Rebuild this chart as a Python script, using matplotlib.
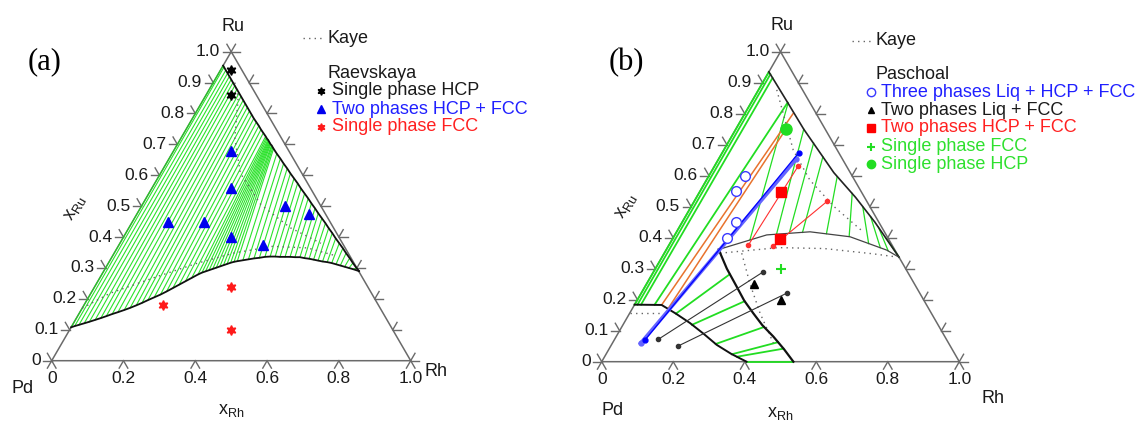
"""Pd-Rh-Ru isothermal sections: (a) vs Raevskaya, (b) vs Paschoal."""

import numpy as np
import matplotlib.pyplot as plt

plt.rcParams["font.family"] = ["Liberation Sans", "DejaVu Sans"]

SQ3 = np.sqrt(3) / 2

RU_TICKS = [0.0, 0.1, 0.2, 0.3, 0.4, 0.5, 0.6, 0.7, 0.8, 0.9, 1.0]
RU_TICK_LABELS = ["0", "0.1", "0.2", "0.3", "0.4", "0.5", "0.6", "0.7", "0.8", "0.9", "1.0"]
RH_TICKS = [0.0, 0.2, 0.4, 0.6, 0.8, 1.0]
RH_TICK_LABELS = ["0", "0.2", "0.4", "0.6", "0.8", "1.0"]

# ---- panel (a): calculated FCC + HCP tie lines (FCC end, HCP end)
A_TIE_FCC_RH = [0.000, 0.008, 0.018, 0.030, 0.042, 0.055, 0.068, 0.080, 0.093, 0.106,
                0.120, 0.133, 0.146, 0.158, 0.170, 0.183, 0.196, 0.208, 0.220, 0.232,
                0.244, 0.256, 0.268, 0.276, 0.284, 0.292, 0.300, 0.308, 0.316, 0.324,
                0.332, 0.340, 0.348, 0.356, 0.370, 0.384, 0.398, 0.412, 0.426, 0.440,
                0.454, 0.468, 0.482, 0.496, 0.510, 0.524, 0.538, 0.552, 0.566, 0.580,
                0.594, 0.608, 0.622, 0.636, 0.650, 0.664, 0.678, 0.692]
A_TIE_FCC_RU = [0.108, 0.112, 0.116, 0.121, 0.126, 0.132, 0.138, 0.144, 0.151, 0.157,
                0.164, 0.171, 0.179, 0.187, 0.196, 0.205, 0.214, 0.224, 0.235, 0.246,
                0.257, 0.268, 0.279, 0.285, 0.289, 0.293, 0.297, 0.301, 0.305, 0.309,
                0.313, 0.317, 0.320, 0.322, 0.325, 0.328, 0.331, 0.333, 0.336, 0.337,
                0.337, 0.336, 0.336, 0.336, 0.335, 0.335, 0.332, 0.330, 0.327, 0.324,
                0.321, 0.319, 0.316, 0.312, 0.308, 0.304, 0.300, 0.296]
A_TIE_HCP_RH = [0.000, 0.005, 0.015, 0.025, 0.035, 0.045, 0.055, 0.065, 0.077, 0.089,
                0.100, 0.112, 0.123, 0.135, 0.147, 0.159, 0.171, 0.184, 0.197, 0.209,
                0.221, 0.233, 0.237, 0.241, 0.245, 0.248, 0.251, 0.254, 0.257, 0.260,
                0.264, 0.267, 0.271, 0.275, 0.292, 0.310, 0.327, 0.345, 0.362, 0.380,
                0.398, 0.416, 0.434, 0.452, 0.469, 0.487, 0.504, 0.522, 0.540, 0.557,
                0.575, 0.593, 0.611, 0.629, 0.646, 0.664, 0.681, 0.699]
A_TIE_HCP_RU = [0.955, 0.950, 0.940, 0.930, 0.920, 0.910, 0.900, 0.890, 0.878, 0.866,
                0.855, 0.843, 0.832, 0.820, 0.808, 0.796, 0.784, 0.772, 0.760, 0.748,
                0.737, 0.726, 0.722, 0.718, 0.715, 0.712, 0.709, 0.706, 0.703, 0.700,
                0.697, 0.694, 0.690, 0.686, 0.670, 0.654, 0.638, 0.622, 0.606, 0.590,
                0.574, 0.557, 0.541, 0.525, 0.509, 0.493, 0.477, 0.461, 0.445, 0.429,
                0.413, 0.396, 0.380, 0.364, 0.348, 0.332, 0.316, 0.300]
A_BOUND_END = (0.711, 0.290)

# Kaye (dotted)
A_KAYE_FCC_RH = [0.000, 0.053, 0.157, 0.247, 0.332, 0.430, 0.530, 0.620]
A_KAYE_FCC_RU = [0.170, 0.218, 0.272, 0.315, 0.348, 0.370, 0.365, 0.340]
A_KAYE_HCP_RH = [0.060, 0.093, 0.150, 0.222, 0.330, 0.450, 0.560]
A_KAYE_HCP_RU = [0.900, 0.853, 0.720, 0.607, 0.505, 0.430, 0.380]

# Raevskaya samples
A_HCP_RH = [0.03, 0.07]
A_HCP_RU = [0.94, 0.86]
A_TWO_RH = [0.16, 0.22, 0.10, 0.20, 0.30, 0.40, 0.40, 0.48]
A_TWO_RU = [0.68, 0.56, 0.45, 0.45, 0.40, 0.375, 0.50, 0.475]
A_FCC_RH = [0.22, 0.38, 0.45]
A_FCC_RU = [0.18, 0.24, 0.10]

# ---- panel (b): calculated boundaries
B_HCP_RH = [0.0, 0.104, 0.19, 0.344, 0.445, 0.539, 0.663]
B_HCP_RU = [0.935, 0.834, 0.75, 0.61, 0.53, 0.45, 0.337]
B_FCC_RH = [0.146, 0.257, 0.373, 0.493, 0.617, 0.663]
B_FCC_RU = [0.362, 0.409, 0.419, 0.403, 0.360, 0.337]
B_LIQ_RH = [0.0, 0.076, 0.13, 0.184, 0.24, 0.295, 0.35, 0.405]
B_LIQ_RU = [0.184, 0.183, 0.155, 0.125, 0.09, 0.054, 0.025, 0.0]
B_SOL_RH = [0.146, 0.20, 0.2565, 0.30, 0.346, 0.39, 0.4395, 0.49, 0.536]
B_SOL_RU = [0.362, 0.30, 0.242, 0.197, 0.156, 0.118, 0.081, 0.04, 0.0]

# tie lines: Liq + HCP, FCC + HCP, Liq + FCC
B_TLH_RH0 = [0.0, 0.008, 0.018, 0.056]
B_TLH_RU0 = [0.184, 0.184, 0.184, 0.184]
B_TLH_RH1 = [0.0, 0.008, 0.020, 0.102]
B_TLH_RU1 = [0.935, 0.927, 0.915, 0.836]
B_TFH_RH0 = [0.218, 0.283, 0.317, 0.353, 0.422, 0.490, 0.556, 0.595, 0.622, 0.663]
B_TFH_RU0 = [0.393, 0.412, 0.415, 0.417, 0.413, 0.404, 0.381, 0.368, 0.358, 0.337]
B_TFH_RH1 = [0.104, 0.190, 0.240, 0.288, 0.360, 0.429, 0.480, 0.518, 0.556, 0.594]
B_TFH_RU1 = [0.834, 0.750, 0.705, 0.661, 0.597, 0.543, 0.500, 0.468, 0.435, 0.400]
B_TLF_RH0 = [0.130, 0.193, 0.290, 0.352, 0.370, 0.405]
B_TLF_RU0 = [0.155, 0.119, 0.057, 0.024, 0.016, 0.0]
B_TLF_RH1 = [0.217, 0.302, 0.398, 0.462, 0.487, 0.536]
B_TLF_RU1 = [0.282, 0.195, 0.112, 0.063, 0.042, 0.0]

# three-phase triangle edges (orange)
B_TRI_RH0 = [0.076, 0.100]
B_TRI_RU0 = [0.183, 0.171]
B_TRI_RH1 = [0.135, 0.140]
B_TRI_RU1 = [0.800, 0.750]

# Kaye (dotted)
B_KAYE_L_RH = [0.0, 0.090]
B_KAYE_L_RU = [0.156, 0.156]
B_KAYE_FCC_RH = [0.156, 0.310, 0.440, 0.585, 0.655]
B_KAYE_FCC_RU = [0.350, 0.368, 0.365, 0.348, 0.338]
B_KAYE_SOL_RH = [0.2165, 0.290, 0.365, 0.450]
B_KAYE_SOL_RU = [0.350, 0.250, 0.156, 0.060]
B_KAYE_HCP_RH = [0.051, 0.194, 0.289, 0.400, 0.520]
B_KAYE_HCP_RU = [0.877, 0.683, 0.586, 0.500, 0.420]

# Paschoal measured tie lines (end points drawn as dots)
B_EXP_LF_RH0 = [0.122, 0.189]
B_EXP_LF_RU0 = [0.072, 0.051]
B_EXP_LF_RH1 = [0.307, 0.407]
B_EXP_LF_RU1 = [0.290, 0.221]
B_EXP_HF_RH0 = [0.222, 0.293]
B_EXP_HF_RU0 = [0.376, 0.373]
B_EXP_HF_RH1 = [0.234, 0.372]
B_EXP_HF_RU1 = [0.632, 0.518]
B_EXP_3P_RH0 = [0.079, 0.086]
B_EXP_3P_RU0 = [0.059, 0.070]
B_EXP_3P_RH1 = [0.217, 0.214]
B_EXP_3P_RU1 = [0.653, 0.674]

# Paschoal samples
B_THREE_RH = [0.15, 0.15, 0.10, 0.10]
B_THREE_RU = [0.40, 0.45, 0.55, 0.60]
B_LF_RH = [0.30, 0.40]
B_LF_RU = [0.25, 0.20]
B_HF_RH = [0.227, 0.30]
B_HF_RU = [0.547, 0.397]
B_SFCC_RH = [0.35]
B_SFCC_RU = [0.30]
B_SHCP_RH = [0.14]
B_SHCP_RU = [0.75]

GREEN = "#22dd22"
KAYE = dict(color="#666666", lw=1.0, ls=(0, (1, 3)))
INK = "#1a1a1a"


def tern(rh, ru):
    rh = np.asarray(rh, dtype=float)
    ru = np.asarray(ru, dtype=float)
    return rh + 0.5 * ru, SQ3 * ru


def line(ax, rh, ru, **kw):
    x, y = tern(rh, ru)
    ax.plot(x, y, **kw)


def segments(ax, rh0, ru0, rh1, ru1, **kw):
    x0, y0 = tern(rh0, ru0)
    x1, y1 = tern(rh1, ru1)
    ax.plot(np.vstack([x0, x1]), np.vstack([y0, y1]), **kw)


def frame(ax, corner_pos):
    ax.plot([0, 1, 0.5, 0], [0, 0, SQ3, 0], color="#6a6a6a", lw=1.1, zorder=1)
    arm = 0.024
    a = np.deg2rad
    for v, lab in zip(RU_TICKS, RU_TICK_LABELS):
        xl, yl = 0.5 * v, SQ3 * v
        for ang in (120, 180):
            ax.plot([xl, xl + arm * np.cos(a(ang))], [yl, yl + arm * np.sin(a(ang))],
                    color="#6a6a6a", lw=1.0)
        xr = 1 - 0.5 * v
        for ang in (0, 60):
            ax.plot([xr, xr + arm * np.cos(a(ang))], [yl, yl + arm * np.sin(a(ang))],
                    color="#6a6a6a", lw=1.0)
        ax.text(xl - 0.031, yl, lab, ha="right", va="center", fontsize=12.5, color=INK)
    for v, lab in zip(RH_TICKS, RH_TICK_LABELS):
        for ang in (240, 300):
            ax.plot([v, v + arm * np.cos(a(ang))], [0, arm * np.sin(a(ang))],
                    color="#6a6a6a", lw=1.0)
        ax.text(v, -0.05, lab, ha="center", va="center", fontsize=12.5, color=INK)
    for txt, (x, y) in corner_pos.items():
        ax.text(x, y, txt, ha="center", va="center", fontsize=13, color=INK)


def render():
    fig = plt.figure(figsize=(11.45, 4.21), dpi=100)
    ax_a = fig.add_axes([0, 0, 0.5, 1])
    ax_b = fig.add_axes([0.5, 0, 0.5, 1])
    for ax in (ax_a, ax_b):
        ax.set_axis_off()
    ax_a.set_xlim(-0.144, 1.4507)
    ax_a.set_ylim(-0.169, 1.0109)
    ax_b.set_xlim(-0.0817, 1.5193)
    ax_b.set_ylim(-0.1657, 1.0105)

    # ---------------- (a)
    ax = ax_a
    frame(ax, {"Ru": (0.504, 0.938), "Pd": (-0.08, -0.077), "Rh": (1.071, -0.029),
               "x$_\\mathregular{Rh}$": (0.501, -0.14)})
    ax.text(0.065, 0.428, "x$_\\mathregular{Ru}$", rotation=60, ha="center", va="center",
            fontsize=13, color=INK)
    ax.text(-0.019, 0.837, "(a)", family=["Liberation Serif"], fontsize=22,
            ha="center", va="center")
    segments(ax, A_TIE_FCC_RH, A_TIE_FCC_RU, A_TIE_HCP_RH, A_TIE_HCP_RU,
             color="#14e014", lw=0.8, alpha=0.9, zorder=2)
    line(ax, A_TIE_FCC_RH + [A_BOUND_END[0]], A_TIE_FCC_RU + [A_BOUND_END[1]],
         color="#111111", lw=1.3, zorder=4)
    line(ax, A_TIE_HCP_RH + [A_BOUND_END[0]], A_TIE_HCP_RU + [A_BOUND_END[1]],
         color="#111111", lw=1.3, zorder=4)
    line(ax, A_KAYE_FCC_RH, A_KAYE_FCC_RU, zorder=3, **KAYE)
    line(ax, A_KAYE_HCP_RH, A_KAYE_HCP_RU, zorder=3, **KAYE)

    x, y = tern(A_HCP_RH, A_HCP_RU)
    ax.plot(x, y, ls="none", marker=(6, 1, 0), ms=7, color="black", zorder=6)
    x, y = tern(A_TWO_RH, A_TWO_RU)
    ax.plot(x, y, ls="none", marker="^", ms=6.5, color="#0000ee", zorder=6)
    x, y = tern(A_FCC_RH, A_FCC_RU)
    ax.plot(x, y, ls="none", marker=(6, 1, 0), ms=7, color="#ff1a1a", zorder=6)

    # legend (a)
    ax.plot([0.70, 0.753], [0.904, 0.904], **KAYE)
    ax.text(0.767, 0.904, "Kaye", fontsize=13, va="center", color=INK)
    ax.text(0.767, 0.806, "Raevskaya", fontsize=13, va="center", color=INK)
    rows = [((6, 1, 0), "black", "Single phase HCP", INK, 0.756),
            ("^", "#0000ee", "Two phases HCP + FCC", "#2020ff", 0.705),
            ((6, 1, 0), "#ff1a1a", "Single phase FCC", "#ff2020", 0.655)]
    for mk, mc, txt, tc, yy in rows:
        ax.plot([0.750], [yy], ls="none", marker=mk, ms=5.5, color=mc)
        ax.text(0.781, yy, txt, fontsize=13, va="center", color=tc)

    # ---------------- (b)
    ax = ax_b
    frame(ax, {"Ru": (0.5034, 0.938), "Pd": (0.029, -0.135), "Rh": (1.095, -0.102),
               "x$_\\mathregular{Rh}$": (0.4986, -0.146)})
    ax.text(0.07, 0.433, "x$_\\mathregular{Ru}$", rotation=60, ha="center", va="center",
            fontsize=13, color=INK)
    ax.text(0.068, 0.836, "(b)", family=["Liberation Serif"], fontsize=22,
            ha="center", va="center")

    segments(ax, B_TLH_RH0, B_TLH_RU0, B_TLH_RH1, B_TLH_RU1, color=GREEN, lw=1.3, zorder=2)
    segments(ax, B_TFH_RH0, B_TFH_RU0, B_TFH_RH1, B_TFH_RU1, color=GREEN, lw=0.9, zorder=2)
    segments(ax, B_TLF_RH0, B_TLF_RU0, B_TLF_RH1, B_TLF_RU1, color=GREEN, lw=1.3, zorder=2)
    segments(ax, B_TRI_RH0, B_TRI_RU0, B_TRI_RH1, B_TRI_RU1, color="#e8732e", lw=1.1, zorder=3)

    line(ax, B_HCP_RH, B_HCP_RU, color="#222222", lw=1.2, zorder=4)
    line(ax, B_FCC_RH, B_FCC_RU, color="#444444", lw=0.9, zorder=4)
    line(ax, B_LIQ_RH, B_LIQ_RU, color="#111111", lw=1.4, zorder=4)
    line(ax, B_SOL_RH, B_SOL_RU, color="#111111", lw=1.6, zorder=4)

    for rh, ru in ((B_KAYE_L_RH, B_KAYE_L_RU), (B_KAYE_FCC_RH, B_KAYE_FCC_RU),
                   (B_KAYE_SOL_RH, B_KAYE_SOL_RU), (B_KAYE_HCP_RH, B_KAYE_HCP_RU)):
        line(ax, rh, ru, zorder=3, **KAYE)

    segments(ax, B_EXP_LF_RH0, B_EXP_LF_RU0, B_EXP_LF_RH1, B_EXP_LF_RU1,
             color="#333333", lw=0.8, marker="o", ms=3, zorder=5)
    segments(ax, B_EXP_HF_RH0, B_EXP_HF_RU0, B_EXP_HF_RH1, B_EXP_HF_RU1,
             color="#ff3030", lw=0.8, marker="o", ms=3, zorder=5)
    segments(ax, B_EXP_3P_RH0[:1], B_EXP_3P_RU0[:1], B_EXP_3P_RH1[:1], B_EXP_3P_RU1[:1],
             color="#6464ff", lw=2.6, marker="o", ms=3.5, zorder=5)
    segments(ax, B_EXP_3P_RH0[1:], B_EXP_3P_RU0[1:], B_EXP_3P_RH1[1:], B_EXP_3P_RU1[1:],
             color="#0000ff", lw=0.9, marker="o", ms=3.5, zorder=5)

    x, y = tern(B_THREE_RH, B_THREE_RU)
    ax.plot(x, y, ls="none", marker="o", ms=7, mfc="white", mec="#3a3aff", mew=1.0, zorder=6)
    x, y = tern(B_LF_RH, B_LF_RU)
    ax.plot(x, y, ls="none", marker="^", ms=6, color="black", zorder=6)
    x, y = tern(B_HF_RH, B_HF_RU)
    ax.plot(x, y, ls="none", marker="s", ms=7, color="#ff0000", zorder=6)
    x, y = tern(B_SFCC_RH, B_SFCC_RU)
    ax.plot(x, y, ls="none", marker="+", ms=7, mew=1.5, color="#22dd22", zorder=6)
    x, y = tern(B_SHCP_RH, B_SHCP_RU)
    ax.plot(x, y, ls="none", marker="o", ms=8, color="#22dd22", zorder=6)

    # legend (b)
    ax.plot([0.699, 0.755], [0.897, 0.897], **KAYE)
    ax.text(0.767, 0.897, "Kaye", fontsize=13, va="center", color=INK)
    ax.text(0.767, 0.801, "Paschoal", fontsize=13, va="center", color=INK)
    rows = [(dict(marker="o", mfc="white", mec="#3a3aff", ms=6), "Three phases Liq + HCP + FCC", "#2020ff", 0.753),
            (dict(marker="^", color="black", ms=5), "Two phases Liq + FCC", INK, 0.703),
            (dict(marker="s", color="#ff0000", ms=6), "Two phases HCP + FCC", "#ff2020", 0.654),
            (dict(marker="+", color="#22dd22", ms=6, mew=1.5), "Single phase FCC", "#2ee02e", 0.601),
            (dict(marker="o", color="#22dd22", ms=6), "Single phase HCP", "#2ee02e", 0.552)]
    for mk, txt, tc, yy in rows:
        ax.plot([0.753], [yy], ls="none", **mk)
        ax.text(0.781, yy, txt, fontsize=13, va="center", color=tc)

    fig.savefig("out.png", dpi=100)


if __name__ == "__main__":
    render()
